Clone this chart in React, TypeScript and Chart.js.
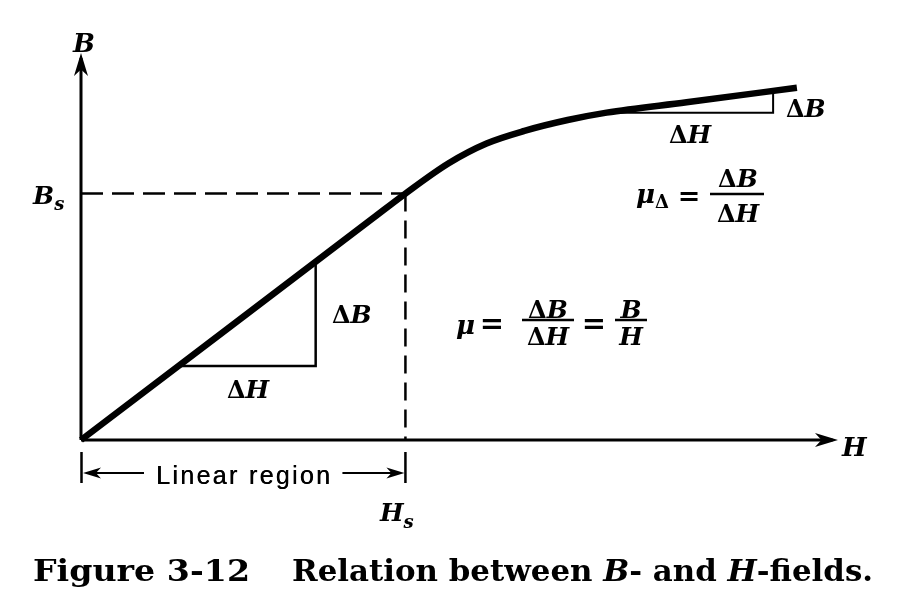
import React, { useEffect, useRef } from "react";
import { Chart, registerables } from "chart.js";

Chart.register(...registerables);

// ---- data (arbitrary units: H along x, B along y) ----
const H_CURVE = [0, 2.7, 3.0, 3.4, 3.75, 4.1, 4.5, 4.86, 5.6, 6.62];
const B_CURVE = [0, 0.9, 1.0, 1.123, 1.203, 1.254, 1.298, 1.328, 1.37, 1.429];
const H_SAT = 3.0;
const B_SAT = 1.0;
const H_MAX = 7.0;
const B_MAX = 1.57;
const TRI_LEFT_H = [0.9, 2.17, 2.17];
const TRI_LEFT_B = [0.3, 0.3, 0.7233];
const TRI_RIGHT_H = [4.86, 6.4, 6.4];
const TRI_RIGHT_B = [1.328, 1.328, 1.416];

const SERIF = "'DejaVu Serif', 'Liberation Serif', serif";
const SANS = "'Liberation Sans', Arial, sans-serif";

const pts = (xs: number[], ys: number[]) => xs.map((x, i) => ({ x, y: ys[i] }));

function arrowHead(ctx: CanvasRenderingContext2D, x: number, y: number, angle: number, len: number, half: number) {
  ctx.save();
  ctx.translate(x, y);
  ctx.rotate(angle);
  ctx.beginPath();
  ctx.moveTo(0, 0);
  ctx.lineTo(-len, -half);
  ctx.lineTo(-len * 0.72, 0);
  ctx.lineTo(-len, half);
  ctx.closePath();
  ctx.fill();
  ctx.restore();
}

type Run = { t: string; f: string; dy?: number };

function runsWidth(ctx: CanvasRenderingContext2D, runs: Run[]) {
  let w = 0;
  for (const r of runs) {
    ctx.font = r.f;
    w += ctx.measureText(r.t).width;
  }
  return w;
}

function drawRuns(ctx: CanvasRenderingContext2D, runs: Run[], x: number, y: number, align: "left" | "center" = "left") {
  let cx = x;
  if (align === "center") cx = x - runsWidth(ctx, runs) / 2;
  ctx.textAlign = "left";
  ctx.textBaseline = "alphabetic";
  for (const r of runs) {
    ctx.font = r.f;
    ctx.fillText(r.t, cx, y + (r.dy || 0));
    cx += ctx.measureText(r.t).width;
  }
}

function drawRunsFit(ctx: CanvasRenderingContext2D, runs: Run[], x: number, y: number, width: number) {
  const w = runsWidth(ctx, runs);
  ctx.save();
  ctx.translate(x, y);
  ctx.scale(width / w, 1);
  drawRuns(ctx, runs, 0, 0);
  ctx.restore();
}

function drawSpaced(ctx: CanvasRenderingContext2D, text: string, font: string, x: number, y: number, width: number) {
  ctx.font = font;
  ctx.textAlign = "left";
  ctx.textBaseline = "alphabetic";
  const chars = text.split("");
  const ws = chars.map((c) => ctx.measureText(c).width);
  const total = ws.reduce((a, b) => a + b, 0);
  const extra = (width - total) / (chars.length - 1);
  let cx = x;
  chars.forEach((c, i) => {
    ctx.fillText(c, cx, y);
    cx += ws[i] + extra;
  });
}

const bi = (s: number) => `italic bold ${s}px ${SERIF}`;
const b = (s: number) => `bold ${s}px ${SERIF}`;

const deltaLabel = (v: string, s = 25): Run[] => [
  { t: "Δ", f: b(s - 1) },
  { t: v, f: bi(s) },
];

const annotations = {
  id: "annotations",
  afterDatasetsDraw(chart: any) {
    const ctx: CanvasRenderingContext2D = chart.ctx;
    const xs = chart.scales.x;
    const ys = chart.scales.y;
    const x0 = xs.getPixelForValue(0);
    const y0 = ys.getPixelForValue(0);
    const xTip = xs.getPixelForValue(H_MAX);
    const yTip = ys.getPixelForValue(B_MAX);
    const xSat = xs.getPixelForValue(H_SAT);
    ctx.save();
    ctx.fillStyle = "#000";
    ctx.strokeStyle = "#000";

    // axis arrowheads
    arrowHead(ctx, xTip, y0, 0, 23, 7);
    arrowHead(ctx, x0, yTip, -Math.PI / 2, 23, 7);

    // linear region marker
    ctx.lineWidth = 2.5;
    ctx.beginPath();
    ctx.moveTo(x0 + 0.5, y0 + 12);
    ctx.lineTo(x0 + 0.5, y0 + 43);
    ctx.moveTo(xSat, y0 + 12);
    ctx.lineTo(xSat, y0 + 43);
    ctx.stroke();
    ctx.lineWidth = 2;
    ctx.beginPath();
    ctx.moveTo(x0 + 63, y0 + 33);
    ctx.lineTo(x0 + 10, y0 + 33);
    ctx.moveTo(xSat - 63, y0 + 33);
    ctx.lineTo(xSat - 10, y0 + 33);
    ctx.stroke();
    arrowHead(ctx, x0 + 2, y0 + 33, Math.PI, 18, 5.5);
    arrowHead(ctx, xSat - 1, y0 + 33, 0, 18, 5.5);
    drawSpaced(ctx, "Linear region", `25px ${SANS}`, 156, 484, 174);
    drawSpaced(ctx, "Linear region", `25px ${SANS}`, 156.4, 484, 174);

    // axis labels
    drawRuns(ctx, [{ t: "B", f: bi(26) }], 84, 52, "center");
    drawRuns(ctx, [{ t: "H", f: bi(26) }], 842, 456);
    drawRuns(ctx, [{ t: "B", f: bi(25) }, { t: "s", f: bi(18), dy: 6 }], 33, 204);
    drawRuns(ctx, [{ t: "H", f: bi(25) }, { t: "s", f: bi(18), dy: 7 }], 380, 521);

    // delta labels
    drawRuns(ctx, deltaLabel("B"), 332, 323);
    drawRuns(ctx, deltaLabel("H"), 227, 398);
    drawRuns(ctx, deltaLabel("B"), 786, 117);
    drawRuns(ctx, deltaLabel("H"), 669, 143);

    // mu_delta formula
    drawRuns(ctx, [{ t: "μ", f: bi(26) }, { t: "Δ", f: b(18), dy: 5 }], 636, 203);
    drawRuns(ctx, [{ t: "=", f: b(27) }], 689, 205, "center");
    ctx.lineWidth = 2.5;
    ctx.beginPath();
    ctx.moveTo(710, 194);
    ctx.lineTo(764, 194);
    ctx.stroke();
    drawRuns(ctx, deltaLabel("B"), 738, 187, "center");
    drawRuns(ctx, deltaLabel("H"), 738, 222, "center");

    // mu formula
    drawRuns(ctx, [{ t: "μ", f: bi(26) }], 456, 334);
    drawRuns(ctx, [{ t: "=", f: b(29) }], 492, 333, "center");
    ctx.beginPath();
    ctx.moveTo(522, 320);
    ctx.lineTo(574, 320);
    ctx.moveTo(615, 320);
    ctx.lineTo(647, 320);
    ctx.stroke();
    drawRuns(ctx, deltaLabel("B"), 548, 318, "center");
    drawRuns(ctx, deltaLabel("H"), 548, 345, "center");
    drawRuns(ctx, [{ t: "=", f: b(29) }], 594, 333, "center");
    drawRuns(ctx, [{ t: "B", f: bi(25) }], 631, 318, "center");
    drawRuns(ctx, [{ t: "H", f: bi(25) }], 631, 345, "center");

    // caption
    drawRunsFit(ctx, [{ t: "Figure 3-12", f: b(29) }], 33, 581, 217);
    drawRunsFit(
      ctx,
      [
        { t: "Relation between ", f: b(29) },
        { t: "B", f: bi(29) },
        { t: "- and ", f: b(29) },
        { t: "H", f: bi(29) },
        { t: "-fields.", f: b(29) },
      ],
      292,
      581,
      581
    );
    ctx.restore();
  },
};

export default function App() {
  const ref = useRef<HTMLCanvasElement | null>(null);
  useEffect(() => {
    if (!ref.current) return;
    const line = (data: any, width: number, dash: number[] = []) => ({
      data,
      showLine: true,
      borderColor: "#000",
      backgroundColor: "#000",
      borderWidth: width,
      borderDash: dash,
      pointRadius: 0,
      pointHoverRadius: 0,
      fill: false,
      clip: false,
      tension: 0,
    });
    const chart = new Chart(ref.current, {
      type: "scatter",
      data: {
        datasets: [
          line(pts([0, H_MAX - 0.05], [0, 0]), 3),
          line(pts([0, 0], [0, B_MAX - 0.02]), 3),
          line(pts([0, H_SAT], [B_SAT, B_SAT]), 2.5, [22, 9]),
          line(pts([H_SAT, H_SAT], [B_SAT, 0]), 2.5, [18, 9]),
          line(pts(TRI_LEFT_H, TRI_LEFT_B), 2.5),
          line(pts(TRI_RIGHT_H, TRI_RIGHT_B), 2),
          { ...line(pts(H_CURVE, B_CURVE), 6.5), cubicInterpolationMode: "monotone", borderCapStyle: "butt" },
        ] as any,
      },
      options: {
        responsive: false,
        animation: false,
        events: [],
        layout: { padding: { left: 81, right: 59, top: 53, bottom: 150 } },
        plugins: { legend: { display: false }, tooltip: { enabled: false }, title: { display: false } },
        scales: {
          x: { type: "linear", min: 0, max: H_MAX, display: false },
          y: { type: "linear", min: 0, max: B_MAX, display: false },
        },
      },
      plugins: [annotations],
    });
    return () => chart.destroy();
  }, []);
  return (
    <div style={{ position: "absolute", left: 0, top: 0, width: 897, height: 590, background: "#fff" }}>
      <canvas ref={ref} width={897} height={590} style={{ display: "block" }} />
    </div>
  );
}
